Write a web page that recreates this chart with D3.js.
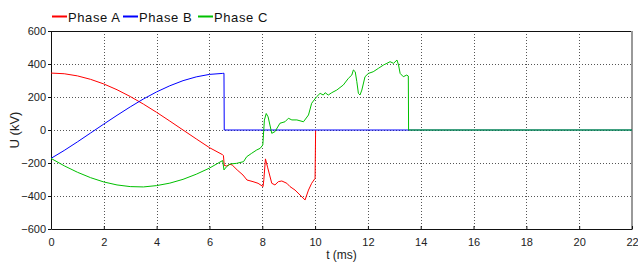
<!DOCTYPE html>
<html>
<head>
<meta charset="utf-8">
<script src="https://cdn.jsdelivr.net/npm/d3@7"></script>
<style>
  body { margin: 0; background: #fff; }
  svg { display: block; font-family: "Liberation Sans", Arial, sans-serif; }
  .grid line { stroke: #555; stroke-dasharray: 1,2; }
  .tick text { fill: #222; font-size: 11px; }
</style>
</head>
<body>
<div id="chart"></div>
<script>
// series names + colours
var seriesNames = ["Phase A", "Phase B", "Phase C"];
var seriesColors = ["#ff0000", "#0000ff", "#00c000"];

// time in ms, voltage in kV
var timeA = [0, 0.5, 1, 1.5, 2, 2.5, 3, 3.5, 4, 4.5, 5, 5.5, 6, 6.5, 6.53, 6.56, 6.65, 6.78, 6.86, 7.05, 7.27, 7.42, 7.65, 7.84, 8.03, 8.06, 8.12, 8.2, 8.36, 8.48, 8.61, 8.74, 8.93, 9.05, 9.24, 9.43, 9.62, 9.75, 9.87, 10.0, 10.02];
var voltA = [345, 341, 328, 307, 279, 244, 203, 157, 107, 54, 0, -54, -107, -150, -155, -215, -218, -208, -212, -242, -273, -303, -313, -323, -343, -300, -175, -225, -323, -333, -313, -309, -323, -343, -364, -394, -424, -364, -323, -293, 0];

var timeB = [0, 0.5, 1, 1.5, 2, 2.5, 3, 3.5, 4, 4.5, 5, 5.5, 6, 6.5, 6.55, 6.56, 22];
var voltB = [-172, -124, -72, -18, 36, 89, 140, 188, 231, 268, 299, 322, 337, 343, 344, 0, 0];

var timeC = [0, 0.5, 1, 1.5, 2, 2.5, 3, 3.5, 4, 4.5, 5, 5.5, 6, 6.5, 6.55, 6.65, 6.78, 7.03, 7.29, 7.41, 7.6, 7.79, 7.92, 8.02, 8.08, 8.15, 8.22, 8.36, 8.48, 8.67, 8.86, 8.99, 9.12, 9.31, 9.56, 9.75, 9.87, 10.06, 10.19, 10.31, 10.38, 10.5, 10.63, 10.82, 11.07, 11.26, 11.39, 11.45, 11.52, 11.58, 11.64, 11.7, 11.77, 11.89, 12.02, 12.2, 12.4, 12.59, 12.72, 12.84, 12.97, 13.1, 13.16, 13.22, 13.34, 13.47, 13.53, 13.54, 22];
var voltC = [-172, -217, -256, -289, -315, -333, -343, -345, -337, -322, -299, -268, -231, -185, -242, -222, -206, -202, -192, -162, -141, -121, -111, -91, 60, 100, 80, -20, -10, 41, 50, 71, 61, 61, 50, 91, 162, 202, 222, 212, 226, 212, 226, 242, 273, 313, 333, 364, 353, 293, 222, 212, 242, 323, 343, 353, 374, 394, 404, 414, 404, 424, 394, 343, 323, 333, 327, 0, 0];

var xTicks = d3.range(0, 23, 2);
var yTicks = [-600, -400, -200, 0, 200, 400, 600];

var W = 638, H = 262;
var margin = {top: 31, right: 6, bottom: 33, left: 51};
var width = W - margin.left - margin.right;
var height = H - margin.top - margin.bottom;

var svg = d3.select("#chart").append("svg")
    .attr("width", W)
    .attr("height", H);

var g = svg.append("g")
    .attr("transform", "translate(" + margin.left + "," + margin.top + ")");

var x = d3.scaleLinear().domain([0, 22]).range([0, width]);
var y = d3.scaleLinear().domain([-600, 600]).range([height, 0]);

// dotted grid
g.append("g").attr("class", "grid")
  .selectAll("line").data(xTicks.slice(1, -1)).enter().append("line")
  .attr("x1", function(d){ return Math.round(x(d)) + 0.5; })
  .attr("x2", function(d){ return Math.round(x(d)) + 0.5; })
  .attr("y1", 0).attr("y2", height);
g.append("g").attr("class", "grid")
  .selectAll("line").data(yTicks.slice(1, -1)).enter().append("line")
  .attr("y1", function(d){ return Math.round(y(d)) + 0.5; })
  .attr("y2", function(d){ return Math.round(y(d)) + 0.5; })
  .attr("x1", 0).attr("x2", width);

// frame: top black, right grey
g.append("line").attr("x1", 0).attr("x2", width).attr("y1", 0.5).attr("y2", 0.5)
  .attr("stroke", "#111").attr("stroke-width", 1);
g.append("line").attr("x1", width).attr("x2", width).attr("y1", 0).attr("y2", height)
  .attr("stroke", "#999").attr("stroke-width", 2);

// axes
var xAxis = g.append("g")
  .attr("transform", "translate(0," + height + ")")
  .call(d3.axisBottom(x).tickValues(xTicks).tickSize(-3).tickPadding(9).tickSizeOuter(0));
var yAxis = g.append("g")
  .call(d3.axisLeft(y).tickValues(yTicks).tickSize(3).tickPadding(2).tickSizeOuter(0));
xAxis.select(".domain").attr("stroke", "#111");
yAxis.select(".domain").attr("stroke", "#111");
xAxis.selectAll(".tick line").attr("stroke", "#111");
yAxis.selectAll(".tick line").attr("stroke", "#111");

// curves
var line = d3.line()
  .x(function(d){ return x(d[0]); })
  .y(function(d){ return y(d[1]); });

var series = [
  d3.zip(timeA, voltA),
  d3.zip(timeB, voltB),
  d3.zip(timeC, voltC)
];

g.selectAll(".curve").data(series).enter().append("path")
  .attr("class", "curve")
  .attr("d", line)
  .attr("fill", "none")
  .attr("stroke", function(d, i){ return seriesColors[i]; })
  .attr("stroke-width", 1)
  .attr("stroke-linejoin", "round");

// axis titles
svg.append("text")
  .attr("x", margin.left + width / 2)
  .attr("y", 259)
  .attr("text-anchor", "middle")
  .attr("font-size", 12)
  .attr("fill", "#222")
  .text("t (ms)");
svg.append("text")
  .attr("transform", "translate(19," + (margin.top + height / 2) + ") rotate(-90)")
  .attr("text-anchor", "middle")
  .attr("font-size", 13)
  .attr("fill", "#222")
  .text("U (kV)");

// legend
var legX = [52, 123, 198];
var leg = svg.selectAll(".leg").data(seriesNames).enter().append("g")
  .attr("class", "leg")
  .attr("transform", function(d, i){ return "translate(" + legX[i] + ",0)"; });
leg.append("line")
  .attr("x1", 0).attr("x2", 15).attr("y1", 16.5).attr("y2", 16.5)
  .attr("stroke", function(d, i){ return seriesColors[i]; })
  .attr("stroke-width", 2);
leg.append("text")
  .attr("x", 16).attr("y", 21.5)
  .attr("font-size", 13)
  .attr("letter-spacing", 0.6)
  .attr("fill", "#111")
  .text(function(d){ return d; });
</script>
</body>
</html>
